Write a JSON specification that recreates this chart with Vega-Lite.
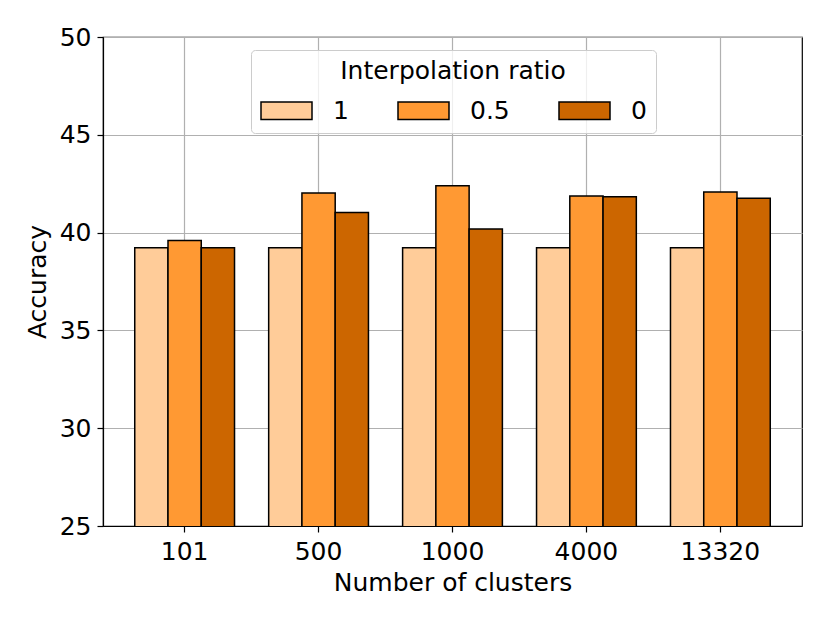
{
  "$schema": "https://vega.github.io/schema/vega-lite/v6.json",
  "width": 699,
  "height": 489,
  "autosize": "none",
  "padding": {"left": 103, "top": 37, "right": 28, "bottom": 97},
  "background": "white",
  "data": {
    "values": [
      {"clusters": "101", "ratio": "1", "accuracy": 39.22},
      {"clusters": "101", "ratio": "0.5", "accuracy": 39.6},
      {"clusters": "101", "ratio": "0", "accuracy": 39.22},
      {"clusters": "500", "ratio": "1", "accuracy": 39.22},
      {"clusters": "500", "ratio": "0.5", "accuracy": 42.03},
      {"clusters": "500", "ratio": "0", "accuracy": 41.03},
      {"clusters": "1000", "ratio": "1", "accuracy": 39.22},
      {"clusters": "1000", "ratio": "0.5", "accuracy": 42.39},
      {"clusters": "1000", "ratio": "0", "accuracy": 40.19},
      {"clusters": "4000", "ratio": "1", "accuracy": 39.22},
      {"clusters": "4000", "ratio": "0.5", "accuracy": 41.87},
      {"clusters": "4000", "ratio": "0", "accuracy": 41.83},
      {"clusters": "13320", "ratio": "1", "accuracy": 39.22},
      {"clusters": "13320", "ratio": "0.5", "accuracy": 42.07},
      {"clusters": "13320", "ratio": "0", "accuracy": 41.76}
    ]
  },
  "mark": {"type": "bar", "stroke": "black", "strokeWidth": 1.5, "clip": true},
  "encoding": {
    "x": {
      "field": "clusters",
      "type": "ordinal",
      "sort": ["101", "500", "1000", "4000", "13320"],
      "title": "Number of clusters",
      "scale": {"paddingInner": 0.255, "paddingOuter": 0.237},
      "axis": {"labelAngle": 0, "bandPosition": 0.5, "grid": true, "labelPadding": 7, "titlePadding": 6}
    },
    "xOffset": {"field": "ratio", "sort": ["1", "0.5", "0"]},
    "y": {
      "field": "accuracy",
      "type": "quantitative",
      "title": "Accuracy",
      "scale": {"domain": [25, 50], "nice": false, "zero": false},
      "axis": {"values": [25, 30, 35, 40, 45, 50], "labelPadding": 6, "titlePadding": 9}
    },
    "color": {
      "field": "ratio",
      "type": "nominal",
      "sort": ["1", "0.5", "0"],
      "scale": {"domain": ["1", "0.5", "0"], "range": ["#FFCC99", "#FF9933", "#CC6600"]},
      "legend": {
        "title": "Interpolation ratio",
        "orient": "none",
        "legendX": 148,
        "legendY": 13,
        "direction": "horizontal",
        "columns": 3,
        "titleAnchor": "middle",
        "titleFontSize": 25,
        "titleFontWeight": "normal",
        "titleLimit": 600,
        "titlePadding": 0,
        "labelFontSize": 25,
        "labelOffset": 20,
        "columnPadding": 46,
        "symbolType": "M-1,-0.347H1V0.347H-1Z",
        "symbolSize": 2601,
        "symbolStrokeColor": "black",
        "symbolStrokeWidth": 1.5,
        "symbolOpacity": 1,
        "padding": 9,
        "strokeColor": "#cccccc",
        "fillColor": "rgba(255,255,255,0.8)",
        "cornerRadius": 4
      }
    }
  },
  "config": {
    "view": {"stroke": "black", "strokeWidth": 1.2},
    "font": "DejaVu Sans",
    "axis": {
      "labelFont": "DejaVu Sans",
      "titleFont": "DejaVu Sans",
      "labelFontSize": 25,
      "titleFontSize": 25,
      "titleFontWeight": "normal",
      "labelColor": "black",
      "titleColor": "black",
      "domainColor": "black",
      "domainWidth": 1.2,
      "tickColor": "black",
      "tickWidth": 1.2,
      "tickSize": 6,
      "gridColor": "#b0b0b0",
      "gridWidth": 1.2,
      "gridOpacity": 1
    },
    "legend": {
      "labelFont": "DejaVu Sans",
      "titleFont": "DejaVu Sans",
      "labelColor": "black",
      "titleColor": "black"
    }
  }
}
